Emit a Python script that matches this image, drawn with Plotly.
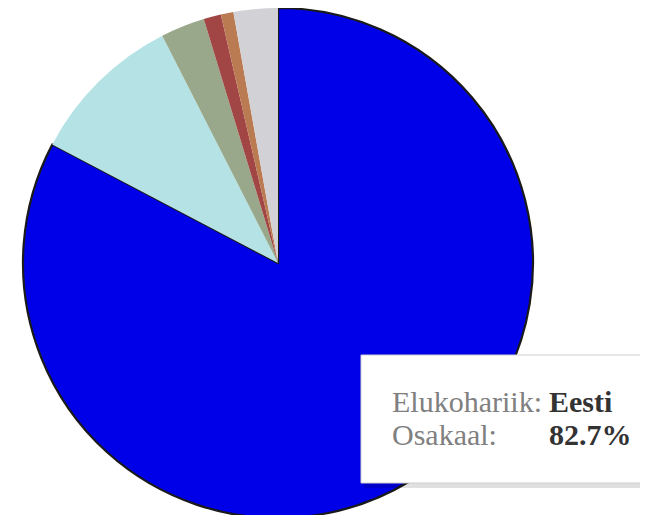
import plotly.graph_objects as go

labels = ["Eesti", "Soome", "Läti", "Venemaa", "Saksamaa", "Muu"]
values = [82.7, 9.8, 2.8, 1.1, 0.8, 2.8]
colors = ["#0000E8", "#B5E3E5", "#99A88A", "#A14545", "#BA7A52", "#D2D2D6"]
line_widths = [2.2, 0, 0, 0, 0, 0]

tip_label = "Elukohariik:"
tip_value = "Eesti"
tip_label2 = "Osakaal:"
tip_value2 = "82.7%"

W, H = 648, 515
OFF = 8  # page body margin offset

fig = go.Figure(go.Pie(
    labels=labels, values=values, sort=False, direction="clockwise", rotation=0,
    marker=dict(colors=colors, line=dict(color="#1a1a1a", width=line_widths)),
    textinfo="none", hoverinfo="skip",
    domain=dict(x=[15 / W, 525 / W], y=[0.0097, 1.0]),
    showlegend=False,
))

def px(x):
    return (x - OFF) / W

def py(y):
    return 1 - (y - OFF) / H

shapes = [
    dict(type="rect", xref="paper", yref="paper", x0=px(364), x1=px(670), y0=py(488), y1=py(358),
         fillcolor="rgba(0,0,0,0.12)", line=dict(width=0)),
    dict(type="rect", xref="paper", yref="paper", x0=px(361), x1=px(670), y0=py(483), y1=py(355),
         fillcolor="white", line=dict(color="#cfcfcf", width=1)),
]
fnt = "Liberation Serif, Times New Roman, serif"
ann = [
    dict(text=tip_label, x=px(390), y=py(401), font=dict(family=fnt, size=30, color="#808080")),
    dict(text="<b>%s</b>" % tip_value, x=px(547), y=py(401), font=dict(family=fnt, size=30, color="#333333")),
    dict(text=tip_label2, x=px(390), y=py(434), font=dict(family=fnt, size=30, color="#808080")),
    dict(text="<b>%s</b>" % tip_value2, x=px(547), y=py(434), font=dict(family=fnt, size=30, color="#333333")),
]
for a in ann:
    a.update(xref="paper", yref="paper", xanchor="left", yanchor="middle", showarrow=False)

fig.update_layout(
    width=W, height=H, margin=dict(l=0, r=0, t=0, b=0),
    paper_bgcolor="white", plot_bgcolor="white",
    shapes=shapes, annotations=ann,
)
fig.write_html("out.html")
